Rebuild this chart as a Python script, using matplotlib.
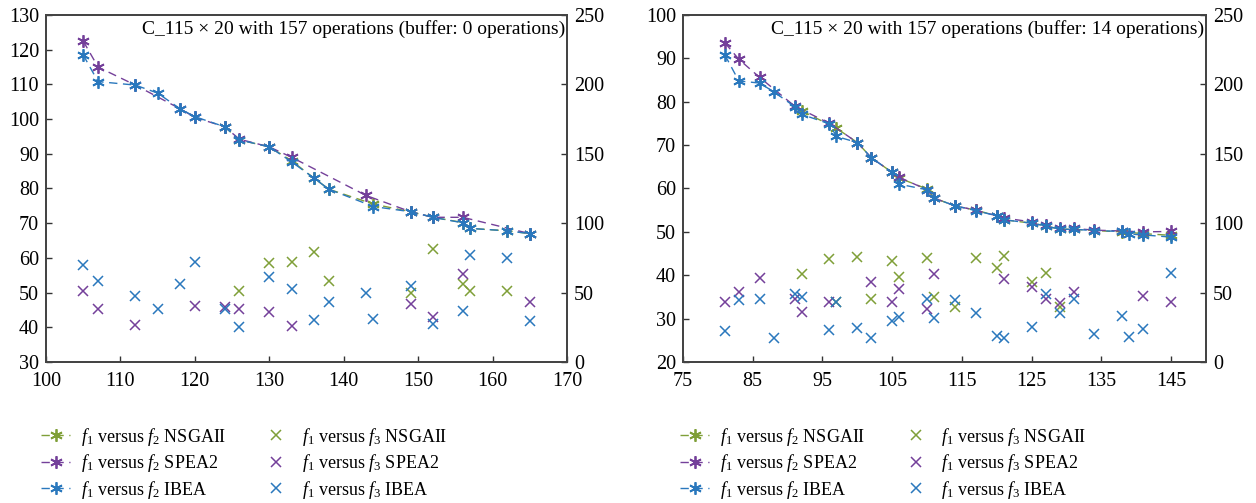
import numpy as np
import matplotlib
matplotlib.use("Agg")
import matplotlib.pyplot as plt

plt.rcParams['font.family'] = 'Liberation Serif'
plt.rcParams['mathtext.fontset'] = 'custom'
plt.rcParams['mathtext.rm'] = 'Liberation Serif'
plt.rcParams['mathtext.it'] = 'Liberation Serif:italic'

GREEN = '#7f9f38'
PURPLE = '#74409a'
BLUE = '#2a78bd'

# ---- left panel (buffer: 0 operations) ----
a_nsga_x = [124, 126, 130, 133, 136, 138, 144, 149, 152, 156, 157, 162, 165]
a_nsga_f2 = [97.8, 94.0, 92.0, 88.0, 83.0, 79.8, 75.5, 73.3, 71.7, 70.2, 68.5, 67.8, 67.0]
a_spea_x = [105, 107, 112, 118, 120, 124, 126, 130, 133, 143, 149, 152, 156, 165]
a_spea_f2 = [122.5, 115.0, 109.8, 103.0, 100.5, 97.8, 94.2, 92.0, 89.0, 78.0, 73.3, 71.7, 71.7, 67.0]
a_ibea_x = [105, 107, 112, 115, 118, 120, 124, 126, 130, 133, 136, 138, 144, 149, 152, 156, 157, 162, 165]
a_ibea_f2 = [118.5, 110.8, 109.8, 107.5, 103.0, 100.7, 97.8, 94.0, 92.0, 87.7, 83.0, 79.8, 74.8,
             73.3, 71.7, 70.1, 68.5, 67.8, 67.0]

a_nsga_sx = [126, 130, 133, 136, 138, 149, 152, 156, 157, 162]
a_nsga_f3 = [51.4, 71.5, 72.3, 79.5, 58.6, 49.9, 81.2, 56.0, 51.4, 51.2]
a_spea_sx = [105, 107, 112, 120, 124, 126, 130, 133, 149, 152, 156, 165]
a_spea_f3 = [51.2, 38.2, 26.7, 40.6, 39.9, 38.0, 36.2, 26.2, 41.6, 32.6, 63.4, 43.0]
a_ibea_sx = [105, 107, 112, 115, 118, 120, 124, 126, 130, 133, 136, 138, 143, 144, 149, 152, 156, 157, 162, 165]
a_ibea_f3 = [69.9, 58.4, 47.8, 38.2, 56.0, 72.3, 38.2, 25.4, 61.5, 52.4, 30.3, 43.0, 49.5, 31.0,
             54.8, 27.4, 37.0, 77.1, 74.7, 29.8]

# ---- right panel (buffer: 14 operations) ----
b_nsga_x = [92, 97, 100, 102, 105, 106, 110, 111, 114, 117, 120, 121, 125, 127, 129, 131, 134, 138, 141, 145]
b_nsga_f2 = [77.9, 73.9, 70.6, 67.1, 63.7, 62.4, 59.9, 57.8, 56.0, 55.0, 53.7, 52.8, 52.0, 51.4,
             50.6, 50.6, 50.3, 50.0, 49.6, 49.2]
b_spea_x = [81, 83, 86, 91, 96, 100, 102, 105, 106, 110, 111, 114, 117, 120, 121, 125, 127, 129,
            131, 134, 138, 141, 145]
b_spea_f2 = [93.6, 89.8, 85.6, 79.0, 75.0, 70.6, 67.1, 63.7, 62.6, 59.7, 57.8, 56.0, 55.0, 53.7,
             53.2, 52.3, 51.6, 51.0, 50.8, 50.4, 50.2, 50.0, 50.1]
b_ibea_x = [81, 83, 86, 88, 91, 92, 96, 97, 100, 102, 105, 106, 110, 111, 114, 117, 120, 121, 125,
            127, 129, 131, 134, 138, 139, 141, 145]
b_ibea_f2 = [90.8, 84.8, 84.3, 82.3, 78.9, 77.1, 74.9, 72.0, 70.6, 67.1, 63.7, 61.0, 59.7, 57.8,
             56.0, 54.9, 53.7, 52.8, 52.0, 51.4, 50.6, 50.6, 50.3, 50.1, 49.5, 49.3, 48.8]

b_nsga_sx = [92, 96, 97, 100, 102, 105, 106, 110, 111, 114, 117, 120, 121, 125, 127, 129]
b_nsga_f3 = [63.4, 74.0, 43.4, 75.9, 45.4, 73.0, 61.0, 74.7, 47.0, 39.8, 74.7, 68.0, 76.6, 57.4, 63.9, 39.8]
b_spea_sx = [81, 83, 86, 91, 92, 96, 102, 105, 106, 110, 111, 121, 125, 127, 129, 131, 141, 145]
b_spea_f3 = [43.0, 50.6, 60.7, 45.2, 36.2, 43.0, 57.9, 43.0, 52.4, 38.0, 63.2, 59.8, 53.8, 45.2,
             42.3, 50.6, 47.5, 43.0]
b_ibea_sx = [81, 83, 86, 88, 91, 92, 96, 97, 100, 102, 105, 106, 110, 111, 114, 117, 120, 121, 125,
             127, 129, 131, 134, 138, 139, 141, 145]
b_ibea_f3 = [22.3, 44.7, 45.4, 17.0, 48.8, 47.0, 23.1, 43.4, 24.7, 17.0, 29.8, 32.6, 45.4, 31.5,
             44.7, 35.1, 18.9, 17.5, 25.0, 48.8, 35.5, 45.2, 20.2, 33.1, 17.8, 23.8, 63.9]

algos = ['NSGAII', 'SPEA2', 'IBEA']
colors = [GREEN, PURPLE, BLUE]
ast = (6, 2, 0)


def panel(fig, rect, lines, scat, xlim, xticks, ylim, yticks, title, leg_anchor):
    ax = fig.add_axes(rect)
    ax2 = ax.twinx()
    hl, hs = [], []
    for (x, y), c, n in zip(lines, colors, algos):
        h, = ax.plot(x, y, ls=(0, (6, 4)), lw=1.0, color=c, marker=ast, ms=9, mew=1.3,
                     label=r'$f_1$ versus $f_2$ ' + n)
        hl.append(h)
    for (x, y), c, n in zip(scat, colors, algos):
        h, = ax2.plot(x, y, ls='none', color=c, marker='x', ms=7, mew=1.1,
                      label=r'$f_1$ versus $f_3$ ' + n)
        hs.append(h)
    ax.set_xlim(*xlim)
    ax.set_ylim(*ylim)
    ax.set_xticks(xticks)
    ax.set_yticks(yticks)
    ax2.set_ylim(0, 250)
    ax2.set_yticks([0, 50, 100, 150, 200, 250])
    ax.tick_params(direction='in', labelsize=14.5, length=4, width=1, top=False, right=False,
                   colors='#333333', labelcolor='black')
    ax.tick_params(axis='x', pad=7)
    ax.tick_params(axis='y', pad=5)
    ax2.tick_params(direction='in', labelsize=14.5, length=4, width=1, pad=5,
                    colors='#333333', labelcolor='black')
    for a in (ax, ax2):
        for s in a.spines.values():
            s.set_linewidth(1.3)
            s.set_color('#444444')
    ax.text(0.997, 0.985, title, transform=ax.transAxes, ha='right', va='top', fontsize=14)
    fig.legend(hl + hs, [h.get_label() for h in hl + hs], ncol=2, frameon=False,
               loc='upper left', bbox_to_anchor=leg_anchor, fontsize=13, handlelength=1.6,
               columnspacing=2.0, labelspacing=0.25, handletextpad=0.6, borderaxespad=0)
    return ax, ax2


fig = plt.figure(figsize=(12.56, 5.03), dpi=100)

panel(fig, [0.0366, 0.2803, 0.4148, 0.6899],
      [(a_nsga_x, a_nsga_f2), (a_spea_x, a_spea_f2), (a_ibea_x, a_ibea_f2)],
      [(a_nsga_sx, a_nsga_f3), (a_spea_sx, a_spea_f3), (a_ibea_sx, a_ibea_f3)],
      (100, 170), range(100, 171, 10), (30, 130), range(30, 131, 10),
      'C_115 \u00d7 20 with 157 operations (buffer: 0 operations)', (0.027, 0.168))

panel(fig, [0.5438, 0.2803, 0.4164, 0.6899],
      [(b_nsga_x, b_nsga_f2), (b_spea_x, b_spea_f2), (b_ibea_x, b_ibea_f2)],
      [(b_nsga_sx, b_nsga_f3), (b_spea_sx, b_spea_f3), (b_ibea_sx, b_ibea_f3)],
      (75, 150), range(75, 146, 10), (20, 100), range(20, 101, 10),
      'C_115 \u00d7 20 with 157 operations (buffer: 14 operations)', (0.536, 0.168))

fig.savefig('out.png', dpi=100)
